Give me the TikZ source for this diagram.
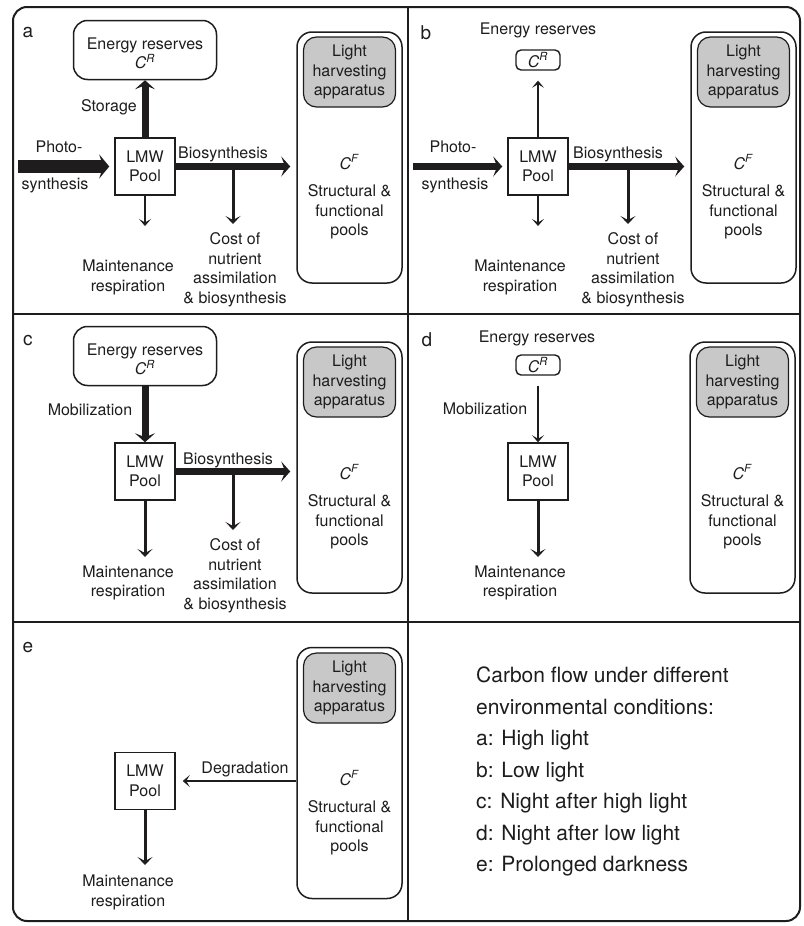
\documentclass[tikz,border=0pt]{standalone}
\usepackage{fontspec}
\setmainfont{TeX Gyre Heros}
\usetikzlibrary{arrows.meta}
\definecolor{lhgray}{RGB}{200,200,200}
\definecolor{ink}{RGB}{30,28,29}
\newcommand{\cRes}{\textit{C}\textsuperscript{\textit{R}}}
\newcommand{\cFun}{\textit{C}\textsuperscript{\textit{F}}}
\tikzset{
  txt/.style={font=\fontsize{16}{19.5}\selectfont, align=center, inner sep=0pt, text=ink},
  lbl/.style={font=\fontsize{19}{22}\selectfont, inner sep=0pt, text=ink},
  rbox/.style={draw=ink, line width=1.5pt, rounded corners=14pt, txt},
  sqbox/.style={draw=ink, line width=1.5pt, txt, minimum width=60pt, minimum height=57pt},
  lhbox/.style={draw=ink, line width=1.2pt, fill=lhgray, rounded corners=13pt, txt, minimum width=92pt, minimum height=70pt},
  cfbox/.style={draw=ink, line width=1.5pt, rounded corners=15pt, minimum width=105pt, minimum height=251pt, inner sep=0pt},
  crbox/.style={draw=ink, line width=1.4pt, rounded corners=5pt, txt, minimum width=44pt, minimum height=20pt},
  thinarr/.style={draw=ink, line width=1.5pt, -{Stealth[length=7pt, width=12pt, inset=3.5pt]}},
  medarr/.style={draw=ink, line width=3pt, -{Stealth[length=8pt, width=15pt, inset=4pt]}},
  thickarr/.style={draw=ink, line width=7pt, -{Stealth[length=9pt, width=20pt, inset=4pt]}},
  hugearr/.style={draw=ink, line width=13pt, -{Stealth[length=10pt, width=24pt, inset=4pt]}},
}
\begin{document}
\begin{tikzpicture}[x=1pt,y=-1pt]
\useasboundingbox (0,0) rectangle (803,926);
% frame and dividers
\draw[draw=ink, line width=2pt, rounded corners=14pt] (13,7) rectangle (800,921);
\draw[draw=ink, line width=2pt] (408,7) -- (408,921);
\draw[draw=ink, line width=2pt] (13,314) -- (800,314);
\draw[draw=ink, line width=2pt] (13,622) -- (800,622);

%%%%%%%% panel a
\node[lbl] (a-lab) at (28,33) {a};
\node[rbox, minimum width=143pt, minimum height=59pt] (a-er) at (145,50) {\rule{0pt}{18pt}Energy reserves\\\cRes};
\node[sqbox] (a-lmw) at (145,166.5) {LMW\\Pool};
\node[cfbox] (a-cf) at (349.5,157.5) {};
\node[lhbox] (a-lh) at (349.5,72) {Light\\harvesting\\apparatus};
\node[txt] (a-cft) at (349.5,162) {\cFun};
\node[txt] (a-sf) at (349.5,212) {Structural \&\\functional\\pools};
\coordinate (a-ps) at (18,166.5);
\draw[hugearr, shorten >=5pt] (a-ps) -- (a-lmw.west);
\node[txt] (a-pt1) at (59,147) {Photo-};
\node[txt] (a-pt2) at (55,185) {synthesis};
\draw[thickarr] (a-lmw.north) -- (a-er.south);
\node[txt, anchor=east] (a-sto) at (137,107) {Storage};
\draw[thickarr, shorten >=6pt] (a-lmw.east) -- (a-lmw.east -| a-cf.west);
\node[txt] (a-bio) at (223,154) {Biosynthesis};
\coordinate (a-cb) at (233,166.5);
\coordinate (a-ce) at (233,224);
\draw[medarr] (a-cb) -- (a-ce);
\node[txt] (a-cost) at (235,270) {Cost of\\nutrient\\assimilation\\\& biosynthesis};
\coordinate (a-me) at (145,226);
\draw[thinarr] (a-lmw.south) -- (a-me);
\node[txt] (a-mr) at (128,277.5) {Maintenance\\respiration};

%%%%%%%% panel b
\node[lbl] (b-lab) at (426,33) {b};
\node[txt] (b-ert) at (538,30) {Energy reserves};
\node[crbox] (b-cr) at (538,60) {\cRes};
\node[sqbox] (b-lmw) at (538,166.5) {LMW\\Pool};
\node[cfbox] (b-cf) at (743.5,157.5) {};
\node[lhbox] (b-lh) at (743.5,72) {Light\\harvesting\\apparatus};
\node[txt] (b-cft) at (743.5,162) {\cFun};
\node[txt] (b-sf) at (743.5,212) {Structural \&\\functional\\pools};
\coordinate (b-ps) at (413,166.5);
\draw[thickarr, shorten >=5pt] (b-ps) -- (b-lmw.west);
\node[txt] (b-pt1) at (453,147) {Photo-};
\node[txt] (b-pt2) at (455,185) {synthesis};
\draw[thinarr, shorten >=10pt] (b-lmw.north) -- (b-cr.south);
\draw[thickarr, shorten >=6pt] (b-lmw.east) -- (b-lmw.east -| b-cf.west);
\node[txt] (b-bio) at (618,154) {Biosynthesis};
\coordinate (b-cb) at (628,166.5);
\coordinate (b-ce) at (628,224);
\draw[medarr] (b-cb) -- (b-ce);
\node[txt] (b-cost) at (633,270) {Cost of\\nutrient\\assimilation\\\& biosynthesis};
\coordinate (b-me) at (538,226);
\draw[thinarr] (b-lmw.south) -- (b-me);
\node[txt] (b-mr) at (520,277.5) {Maintenance\\respiration};

%%%%%%%% panel c
\node[lbl] (c-lab) at (28,341) {c};
\node[rbox, minimum width=143pt, minimum height=59pt] (c-er) at (145,356) {\rule{0pt}{18pt}Energy reserves\\\cRes};
\node[sqbox] (c-lmw) at (145,471.5) {LMW\\Pool};
\node[cfbox] (c-cf) at (349.5,467.5) {};
\node[lhbox] (c-lh) at (349.5,382) {Light\\harvesting\\apparatus};
\node[txt] (c-cft) at (349.5,472) {\cFun};
\node[txt] (c-sf) at (349.5,522) {Structural \&\\functional\\pools};
\draw[thickarr] (c-er.south) -- (c-lmw.north);
\node[txt] (c-mob) at (90,410) {Mobilization};
\draw[thickarr, shorten >=6pt] (c-lmw.east) -- (c-lmw.east -| c-cf.west);
\node[txt] (c-bio) at (228,460) {Biosynthesis};
\coordinate (c-cb) at (233,471.5);
\coordinate (c-ce) at (233,530);
\draw[medarr] (c-cb) -- (c-ce);
\node[txt] (c-cost) at (235,576) {Cost of\\nutrient\\assimilation\\\& biosynthesis};
\coordinate (c-me) at (145,557);
\draw[medarr] (c-lmw.south) -- (c-me);
\node[txt] (c-mr) at (128,583) {Maintenance\\respiration};

%%%%%%%% panel d
\node[lbl] (d-lab) at (427,340) {d};
\node[txt] (d-ert) at (537,338) {Energy reserves};
\node[crbox] (d-cr) at (538,365) {\cRes};
\node[sqbox] (d-lmw) at (538,471.5) {LMW\\Pool};
\node[cfbox] (d-cf) at (742.5,467.5) {};
\node[lhbox] (d-lh) at (742.5,382) {Light\\harvesting\\apparatus};
\node[txt] (d-cft) at (742.5,472) {\cFun};
\node[txt] (d-sf) at (742.5,522) {Structural \&\\functional\\pools};
\draw[thinarr, shorten <=10pt] (d-cr.south) -- (d-lmw.north);
\node[txt] (d-mob) at (485,409) {Mobilization};
\coordinate (d-me) at (538,557);
\draw[medarr] (d-lmw.south) -- (d-me);
\node[txt] (d-mr) at (520,583) {Maintenance\\respiration};

%%%%%%%% panel e
\node[lbl] (e-lab) at (28,648) {e};
\node[sqbox] (e-lmw) at (145,781) {LMW\\Pool};
\node[cfbox] (e-cf) at (349.5,773) {};
\node[lhbox] (e-lh) at (349.5,688) {Light\\harvesting\\apparatus};
\node[txt] (e-cft) at (349.5,778) {\cFun};
\node[txt] (e-sf) at (349.5,828) {Structural \&\\functional\\pools};
\draw[thinarr, shorten >=7pt] (e-cf.west |- e-lmw.east) -- (e-lmw.east);
\node[txt] (e-deg) at (245,769) {Degradation};
\coordinate (e-me) at (145,865);
\draw[medarr] (e-lmw.south) -- (e-me);
\node[txt] (e-mr) at (128,892.5) {Maintenance\\respiration};

%%%%%%%% legend
\node[anchor=west, align=left, inner sep=0pt, text=ink, font=\fontsize{21}{31.5}\selectfont] (leg) at (476,771.5)
  {Carbon flow under different\\environmental conditions:\\a: High light\\b: Low light\\c: Night after high light\\d: Night after low light\\e: Prolonged darkness};
\end{tikzpicture}
\end{document}
